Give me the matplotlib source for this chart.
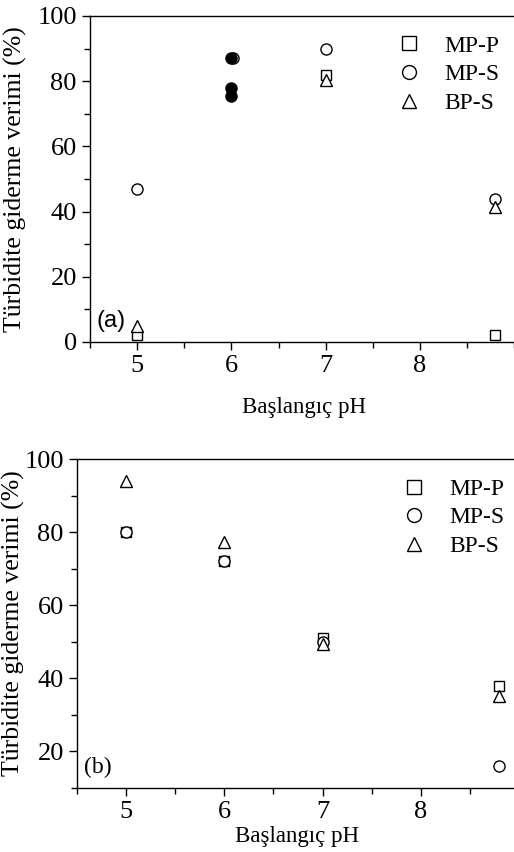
import matplotlib
matplotlib.use("Agg")
import matplotlib.pyplot as plt
from matplotlib.ticker import MultipleLocator, FixedLocator

plt.rcParams["font.family"] = ["Liberation Serif", "DejaVu Serif"]

# panel (a)
ph_a = [5, 7, 8.8]
mpp_a = [2, 82, 2]
mps_a = [47, 90, 44]
bps_a = [5, 80.5, 41.5]
# pH 6 points drawn as filled dots in the original
ph6_filled = [6, 6, 6]
val6_filled = [87, 78, 75.5]
mps6_open = 87

# panel (b)
ph_b = [5, 6, 7, 8.8]
mpp_b = [80, 72, 51, 38]
mps_b = [80, 72, 50, 16]
bps_b = [94, 77.3, 49.3, 35.3]

labels = ["MP-P", "MP-S", "BP-S"]
ylabel = "Türbidite giderme verimi (%)"
xlabel = "Başlangıç pH"
xticks = [5, 6, 7, 8]

W, H = 514, 852
fig = plt.figure(figsize=(W / 100, H / 100), dpi=100)


def px_axes(left, top, right, bottom):
    return fig.add_axes([left / W, 1 - bottom / H, (right - left) / W, (bottom - top) / H])


def style(ax):
    ax.spines["right"].set_visible(False)
    for s in ["left", "bottom", "top"]:
        ax.spines[s].set_linewidth(1.0)
    ax.tick_params(which="both", direction="out", top=False, right=False, labelsize=19)
    ax.tick_params(which="major", length=6, width=1)
    ax.tick_params(which="minor", length=4, width=1)
    ax.xaxis.set_major_locator(FixedLocator(xticks))
    ax.xaxis.set_minor_locator(MultipleLocator(0.5))
    ax.yaxis.set_major_locator(MultipleLocator(20))
    ax.yaxis.set_minor_locator(MultipleLocator(10))


def add_legend(ax, xr):
    ax.legend(loc="upper right", frameon=False, fontsize=17, handlelength=1.0,
              handletextpad=1.0, labelspacing=0.3, borderaxespad=0.0,
              markerscale=1.25, bbox_to_anchor=(xr, 0.97))


mk = dict(linestyle="none", markerfacecolor="white", markeredgecolor="black",
          markeredgewidth=1.0, color="black")

ax1 = px_axes(90, 16, 518, 342)
style(ax1)
ax1.plot(ph_a, mpp_a, marker="s", markersize=7.5, label=labels[0], **mk)
ax1.plot(ph_a, mps_a, marker="o", markersize=8, label=labels[1], **mk)
ax1.plot(ph_a, bps_a, marker="^", markersize=8.5, label=labels[2], **mk)
ax1.plot(ph6_filled, val6_filled, marker="o", markersize=8, linestyle="none", color="black")
ax1.plot([6.02], [mps6_open], marker="o", markersize=8, linestyle="none",
         markerfacecolor="none", markeredgecolor="black")
ax1.set_xlim(4.5, 9.04)
ax1.set_ylim(0, 100)
ax1.set_xlabel(xlabel, fontsize=16.5, labelpad=14)
ax1.set_ylabel(ylabel, fontsize=18.5)
ax1.yaxis.set_label_coords((27 - 90) / 428, 0.5)
ax1.text(0.015, 0.045, "(a)", transform=ax1.transAxes, fontsize=17,
         family="Liberation Sans")
add_legend(ax1, 0.979)

ax2 = px_axes(77, 459, 518, 788)
style(ax2)
ax2.plot(ph_b, mpp_b, marker="s", markersize=7.5, label=labels[0], **mk)
ax2.plot(ph_b, mps_b, marker="o", markersize=8, label=labels[1], **mk)
ax2.plot(ph_b, bps_b, marker="^", markersize=8.5, label=labels[2], **mk)
ax2.set_xlim(4.5, 8.99)
ax2.set_ylim(10, 100)
ax2.set_xlabel(xlabel, fontsize=16.5, labelpad=2)
ax2.set_ylabel(ylabel, fontsize=18.5)
ax2.yaxis.set_label_coords((25 - 77) / 441, 0.5)
ax2.text(0.015, 0.045, "(b)", transform=ax2.transAxes, fontsize=17)
add_legend(ax2, 0.99)

fig.savefig("out.png", dpi=100)
